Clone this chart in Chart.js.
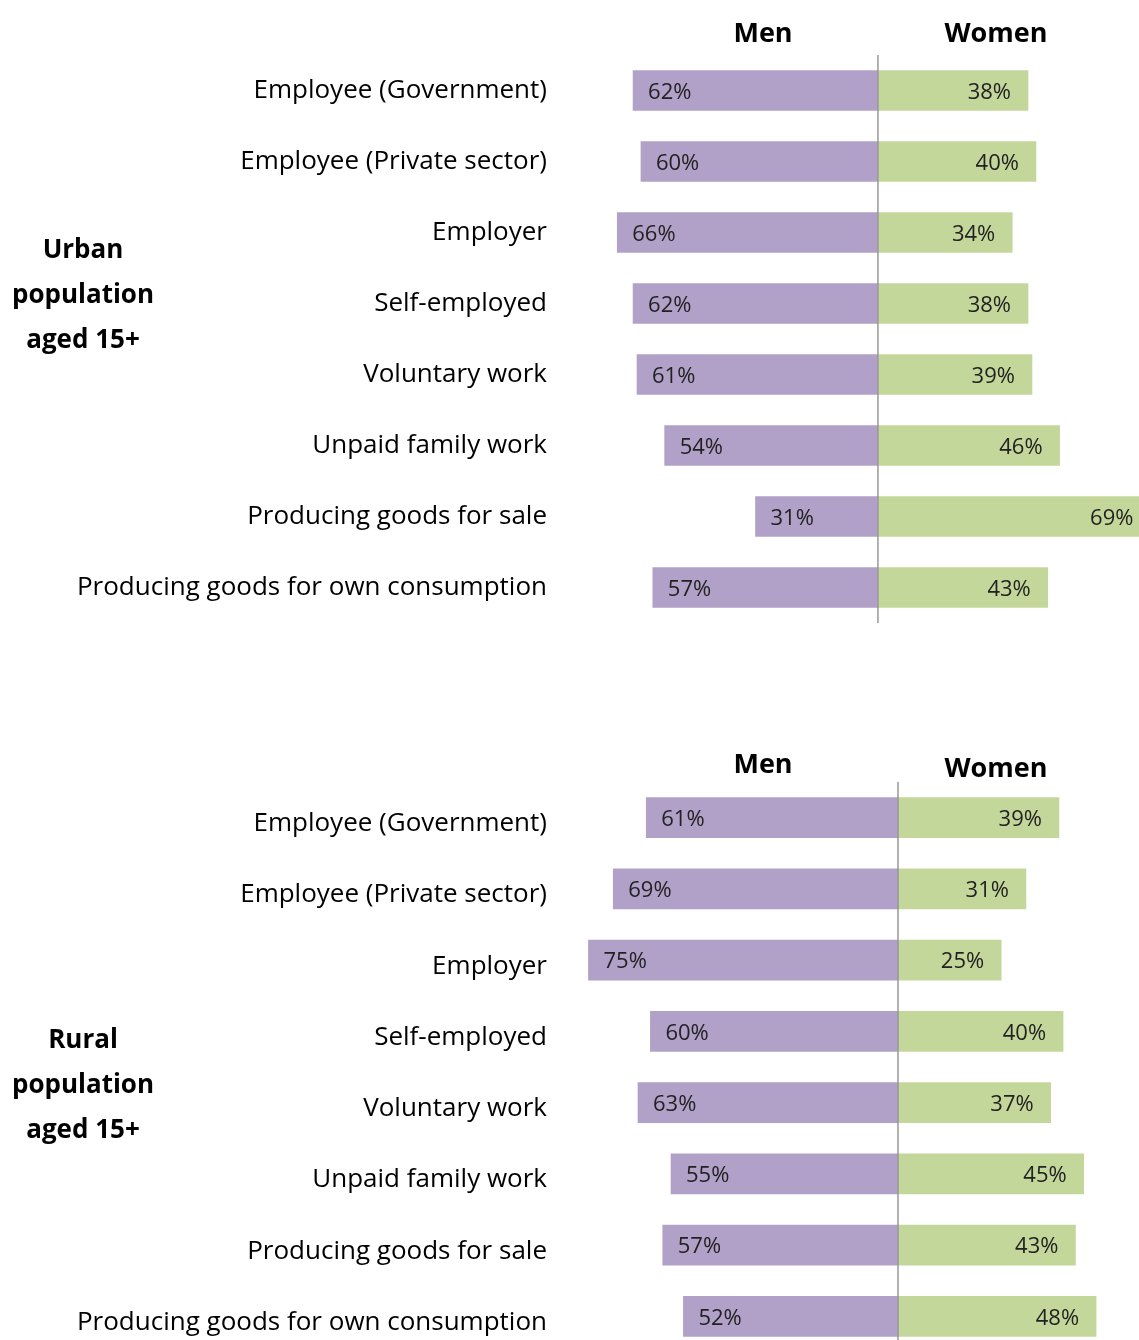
<!DOCTYPE html>
<html>
<head>
<meta charset="utf-8">
<script src="https://cdn.jsdelivr.net/npm/chart.js@4.4.1/dist/chart.umd.min.js"></script>
<style>
  html, body { margin: 0; padding: 0; background: #fff; }
  #page { position: relative; width: 1139px; height: 1340px; overflow: hidden; background: #fff; font-family: "Open Sans", sans-serif; }
  canvas { position: absolute; left: 0; }
  .head { position: absolute; font-weight: bold; font-size: 27px; color: #000; transform: translate(-50%, -50%); white-space: nowrap; }
  .group { position: absolute; left: 0; width: 166px; text-align: center; font-weight: bold; font-size: 26px; line-height: 45px; color: #000; }
</style>
</head>
<body>
<div id="page">
  <canvas id="urbanChart" width="1139" height="660" style="top:0"></canvas>
  <canvas id="ruralChart" width="1139" height="700" style="top:700px"></canvas>

  <div class="head" style="left:763px; top:31px">Men</div>
  <div class="head" style="left:996px; top:31px">Women</div>
  <div class="head" style="left:763px; top:762px">Men</div>
  <div class="head" style="left:996px; top:766px">Women</div>

  <div class="group" style="top:226px">Urban<br>population<br>aged 15+</div>
  <div class="group" style="top:1016px">Rural<br>population<br>aged 15+</div>
</div>

<script>
// категории (одинаковые для обеих частей)
const categories = [
    'Employee (Government)',
    'Employee (Private sector)',
    'Employer',
    'Self-employed',
    'Voluntary work',
    'Unpaid family work',
    'Producing goods for sale',
    'Producing goods for own consumption'
];

// городское население, %
const urbanMen   = [62, 60, 66, 62, 61, 54, 31, 57];
const urbanWomen = [38, 40, 34, 38, 39, 46, 69, 43];

// сельское население, %
const ruralMen   = [61, 69, 75, 60, 63, 55, 57, 52];
const ruralWomen = [39, 31, 25, 40, 37, 45, 43, 48];

const menColor = '#b1a0c7';
const womenColor = '#c4d79b';

// подписи значений внутри столбцов + центральная линия
const barLabels = {
    id: 'barLabels',
    afterDatasetsDraw(chart) {
        const ctx = chart.ctx;
        const area = chart.chartArea;
        const x0 = chart.scales.x.getPixelForValue(0);
        ctx.save();
        ctx.strokeStyle = '#999';
        ctx.lineWidth = 1.5;
        ctx.beginPath();
        ctx.moveTo(x0, area.top);
        ctx.lineTo(x0, area.bottom);
        ctx.stroke();

        ctx.font = '22px "Open Sans"';
        ctx.fillStyle = '#222';
        ctx.textBaseline = 'middle';
        chart.data.datasets.forEach((ds, i) => {
            chart.getDatasetMeta(i).data.forEach((bar, j) => {
                const v = Math.abs(ds.data[j]) + '%';
                if (ds.data[j] < 0) {
                    ctx.textAlign = 'left';
                    ctx.fillText(v, bar.x + 15, bar.y + 2);
                } else {
                    ctx.textAlign = 'right';
                    ctx.fillText(v, bar.x - 17, bar.y + 2);
                }
            });
        });
        ctx.restore();
    }
};

function makeChart(id, men, women, xMin, xMax, padTop, padBottom, labelShift) {
    const ctx = document.getElementById(id).getContext('2d');
    return new Chart(ctx, {
        type: 'bar',
        data: {
            labels: categories,
            datasets: [
                { label: 'Men', data: men.map(v => -v), backgroundColor: menColor, barThickness: 40 },
                { label: 'Women', data: women, backgroundColor: womenColor, barThickness: 40 }
            ]
        },
        options: {
            indexAxis: 'y',
            responsive: false,
            animation: false,
            layout: { padding: { top: padTop, bottom: padBottom, left: 0, right: 0 } },
            plugins: { legend: { display: false }, tooltip: { enabled: false } },
            scales: {
                x: { stacked: true, min: xMin, max: xMax, display: false },
                y: {
                    stacked: true,
                    grid: { display: false, drawTicks: false },
                    border: { display: false },
                    ticks: {
                        color: '#000',
                        padding: 13,
                        labelOffset: labelShift,
                        font: { family: '"Open Sans"', size: 26 }
                    },
                    afterFit(scale) { scale.width = 560; }
                }
            }
        },
        plugins: [barLabels]
    });
}

window.onload = function () {
    makeChart('urbanChart', urbanMen, urbanWomen, -80.5, 66.1, 55, 37, 0);
    makeChart('ruralChart', ruralMen, ruralWomen, -81.9, 58.4, 82, 48, 6);
};
</script>
</body>
</html>
